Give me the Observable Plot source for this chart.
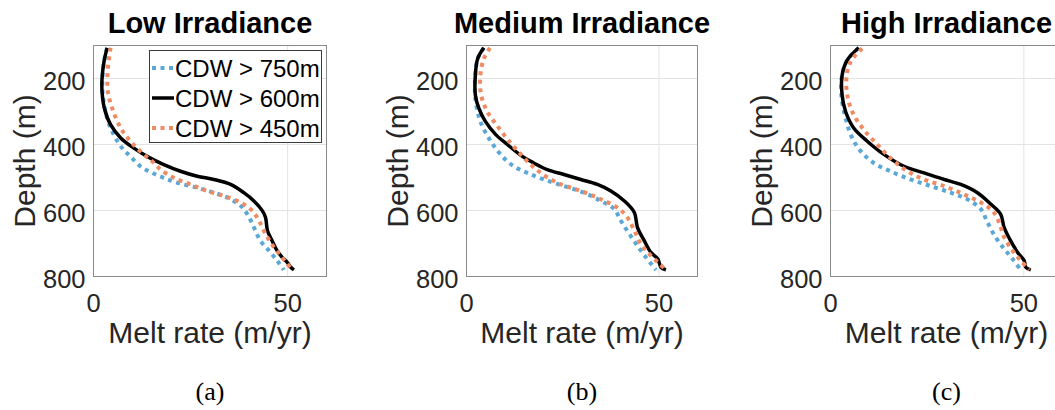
<!DOCTYPE html>
<html><head><meta charset="utf-8">
<script src="https://cdn.jsdelivr.net/npm/d3@7"></script>
<script src="https://cdn.jsdelivr.net/npm/@observablehq/plot@0.6"></script>
<style>
body{margin:0;background:#fff;}
#root{position:relative;width:1055px;height:410px;overflow:hidden;background:#fff;}
.panel{position:absolute;top:0;}
#legend{position:absolute;left:149px;top:50px;}
</style></head><body><div id="root"></div>
<script>
// ---- data ----
const panelTitles = ["Low Irradiance", "Medium Irradiance", "High Irradiance"];
const panelCaptions = ["(a)", "(b)", "(c)"];
const seriesNames = ["CDW > 750m", "CDW > 600m", "CDW > 450m"];
const xTicks = [0, 50];
const yTicks = [200, 400, 600, 800];
const xLabel = "Melt rate (m/yr)";
const yLabel = "Depth (m)";

// [melt rate (m/yr), depth (m)]
const low750 = [[3.5,107],[2.7,149],[2.3,200],[2.4,250],[3.5,320],[5.2,370],[7.4,411],[9.5,436],[12.1,466],[15.1,486],[18.1,501],[21.6,516],[26.7,531],[31.0,546],[34.5,561],[37.9,586],[39.6,611],[41.3,651],[43.0,692],[45.2,722],[47.3,752],[49.0,780]];
const low600 = [[3.5,107],[2.7,149],[2.2,200],[2.2,240],[2.8,290],[4.4,340],[7.0,380],[10.4,411],[13.8,436],[18.1,461],[22.4,481],[26.7,496],[31.0,506],[35.3,521],[38.7,546],[41.3,571],[43.5,601],[44.3,621],[44.8,661],[46.0,692],[47.3,722],[48.6,742],[49.9,757],[50.8,772],[51.6,780]];
const low450 = [[4.4,107],[3.7,170],[3.7,240],[4.8,290],[7.0,350],[9.5,390],[12.5,426],[15.1,451],[17.3,476],[20.7,501],[25.0,521],[29.3,541],[33.6,556],[37.9,576],[40.9,601],[42.6,631],[44.3,671],[46.5,712],[48.2,737],[49.9,762],[51.2,780]];

const med750 = [[4.5,107],[2.9,140],[2.3,190],[2.3,260],[3.6,330],[6.3,390],[9.3,436],[12.3,466],[15.8,486],[20.1,506],[25.3,526],[30.5,546],[34.9,571],[38.4,596],[40.1,631],[42.3,671],[44.4,707],[46.6,742],[49.2,780]];
const med600 = [[4.5,107],[2.9,140],[2.3,190],[2.3,250],[3.2,290],[4.9,330],[7.6,370],[10.6,400],[14.5,436],[17.5,456],[21.0,476],[25.3,491],[29.7,506],[34.0,521],[37.5,541],[41.0,571],[43.6,606],[44.4,651],[46.2,692],[47.9,727],[49.7,747],[50.5,772],[51.8,780]];
const med450 = [[6.1,107],[4.5,140],[3.6,190],[3.8,250],[5.4,300],[8.4,350],[11.5,396],[14.1,430],[16.7,461],[19.3,486],[23.6,516],[29.7,541],[34.9,566],[39.2,591],[41.8,621],[43.6,661],[45.3,702],[47.5,732],[49.7,757],[51.8,780]];

const high750 = [[7.3,107],[4.3,145],[3.0,190],[2.8,250],[3.9,320],[5.6,380],[7.8,420],[11.2,456],[15.5,481],[20.7,506],[25.9,526],[31.1,546],[35.4,566],[38.9,596],[40.6,636],[42.7,681],[44.9,716],[47.1,747],[49.2,780]];
const high600 = [[7.3,107],[4.3,145],[3.0,190],[3.0,250],[3.9,300],[6.0,350],[9.5,390],[13.8,430],[19.0,466],[24.2,486],[29.4,506],[33.7,521],[38.0,546],[41.5,581],[44.0,611],[44.9,651],[46.6,692],[48.4,727],[50.1,752],[50.5,772],[51.8,780]];
const high450 = [[8.2,109],[5.2,149],[4.1,200],[4.5,260],[6.0,310],[8.6,355],[12.1,400],[15.5,441],[19.9,481],[24.2,506],[29.4,526],[34.5,551],[38.9,576],[41.9,601],[43.6,636],[44.9,681],[47.1,722],[49.2,752],[51.4,780]];

const panelSeries = [[low750, low600, low450], [med750, med600, med450], [high750, high600, high450]];

// ---- styles ----
const seriesStyles = [
  {stroke: "#5ba8d6", strokeWidth: 4, strokeDasharray: "4,4.5"},
  {stroke: "#000000", strokeWidth: 3.5, strokeDasharray: null},
  {stroke: "#f08a63", strokeWidth: 4, strokeDasharray: "4,4.5"}
];
const drawOrder = [0, 1, 2];
const layouts = [
  {left: 0, width: 360, ml: 93, mr: 34},
  {left: 370, width: 360, ml: 96, mr: 33},
  {left: 735, width: 340, ml: 95, mr: 13}
];
const FONT = "'Liberation Sans', Arial, Helvetica, sans-serif";
const TICK_SIZE = 25.5;
const root = document.getElementById("root");

panelSeries.forEach((series, p) => {
  const L = layouts[p];
  const lineMarks = drawOrder.map(s => {
    const st = seriesStyles[s];
    const opts = {x: d => d[0], y: d => d[1], stroke: st.stroke, strokeWidth: st.strokeWidth, curve: "catmull-rom", strokeLinejoin: "round", strokeLinecap: "butt"};
    if (st.strokeDasharray) opts.strokeDasharray = st.strokeDasharray;
    return Plot.line(series[s], opts);
  });
  const chart = Plot.plot({
    width: L.width, height: 410,
    marginLeft: L.ml, marginRight: L.mr, marginTop: 45, marginBottom: 134,
    style: {fontFamily: FONT, fontSize: "24px", color: "#262626", background: "transparent", overflow: "visible"},
    x: {domain: [0, 60], label: null},
    y: {domain: [100, 800], reverse: true, label: null},
    marks: [
      Plot.gridX(xTicks, {stroke: "#e3e3e3", strokeOpacity: 1, strokeWidth: 1}),
      Plot.gridY(yTicks, {stroke: "#e3e3e3", strokeOpacity: 1, strokeWidth: 1}),
      Plot.axisX(xTicks, {tickSize: 0, tickPadding: 17, fontSize: TICK_SIZE, fontFamily: FONT, fill: "#262626", label: null}),
      Plot.axisY(yTicks, {tickSize: 0, tickPadding: 8, fontSize: TICK_SIZE, fontFamily: FONT, fill: "#262626", dy: 3, label: null}),
      ...lineMarks,
      Plot.frame({stroke: "#8a8a8a", strokeWidth: 1}),
      Plot.text([panelTitles[p]], {text: d => d, frameAnchor: "top", lineAnchor: "bottom", dy: -13, fontSize: 29, fontWeight: "bold", fontFamily: FONT, fill: "#000"}),
      Plot.text([xLabel], {text: d => d, frameAnchor: "bottom", lineAnchor: "bottom", dy: 66, fontSize: 30, fontFamily: FONT, fill: "#262626"}),
      Plot.text([yLabel], {text: d => d, frameAnchor: "left", textAnchor: "middle", lineAnchor: "bottom", rotate: -90, dx: -59, fontSize: 30, fontFamily: FONT, fill: "#262626"}),
      Plot.text([panelCaptions[p]], {text: d => d, frameAnchor: "bottom", lineAnchor: "bottom", dy: 123, fontSize: 26, fontFamily: "'Liberation Serif', 'Times New Roman', serif", fill: "#000"})
    ]
  });
  chart.classList.add("panel");
  chart.style.left = L.left + "px";
  root.appendChild(chart);
});

// ---- legend (panel a) ----
const NS = "http://www.w3.org/2000/svg";
const lg = document.createElementNS(NS, "svg");
lg.setAttribute("id", "legend");
lg.setAttribute("width", 173); lg.setAttribute("height", 93);
const rect = document.createElementNS(NS, "rect");
rect.setAttribute("x", 0.5); rect.setAttribute("y", 0.5);
rect.setAttribute("width", 172); rect.setAttribute("height", 92);
rect.setAttribute("fill", "#fff"); rect.setAttribute("stroke", "#3a3a3a"); rect.setAttribute("stroke-width", 1);
lg.appendChild(rect);
seriesNames.forEach((name, i) => {
  const cy = 18 + i * 30;
  const st = seriesStyles[i];
  const ln = document.createElementNS(NS, "line");
  ln.setAttribute("x1", 3); ln.setAttribute("x2", 25);
  ln.setAttribute("y1", cy); ln.setAttribute("y2", cy);
  ln.setAttribute("stroke", st.stroke); ln.setAttribute("stroke-width", st.strokeWidth);
  if (st.strokeDasharray) ln.setAttribute("stroke-dasharray", st.strokeDasharray);
  lg.appendChild(ln);
  const tx = document.createElementNS(NS, "text");
  tx.setAttribute("x", 26); tx.setAttribute("y", cy + 8.5);
  tx.setAttribute("font-family", FONT); tx.setAttribute("font-size", 24);
  tx.setAttribute("fill", "#000");
  tx.textContent = name;
  lg.appendChild(tx);
});
root.appendChild(lg);
</script>
</body></html>
